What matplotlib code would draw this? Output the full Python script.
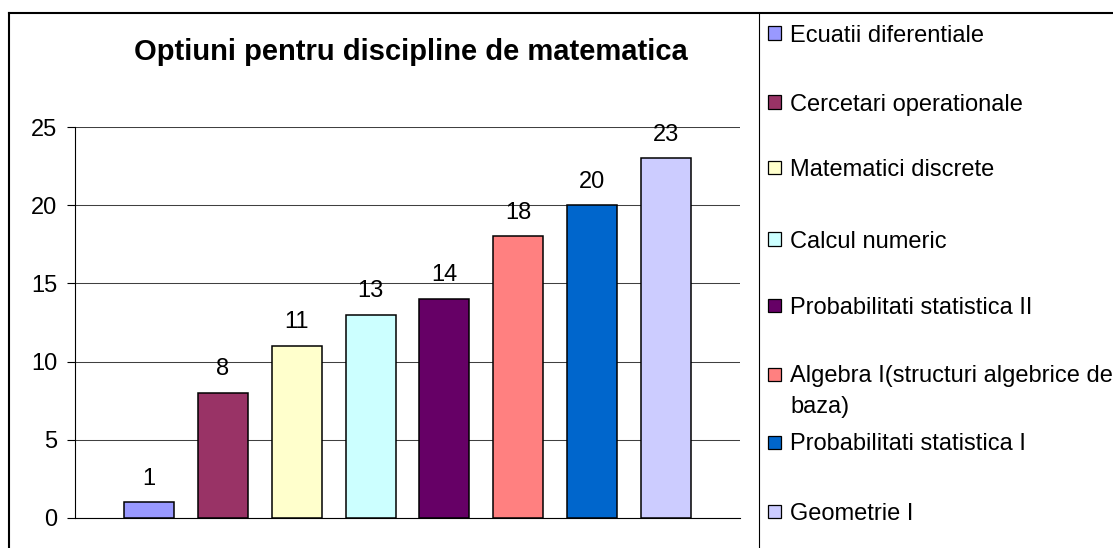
import matplotlib
matplotlib.use("Agg")
import matplotlib.pyplot as plt
from matplotlib.lines import Line2D
from matplotlib.patches import Rectangle

plt.rcParams['font.family'] = ['Liberation Sans', 'DejaVu Sans']

titlu = "Optiuni pentru discipline de matematica"
discipline = ["Ecuatii diferentiale", "Cercetari operationale", "Matematici discrete",
              "Calcul numeric", "Probabilitati statistica II",
              "Algebra I(structuri algebrice de\nbaza)", "Probabilitati statistica I",
              "Geometrie I"]
optiuni = [1, 8, 11, 13, 14, 18, 20, 23]
culori = ["#9999FF", "#993366", "#FFFFCC", "#CCFFFF", "#660066",
          "#FF8080", "#0066CC", "#CCCCFF"]
y_ticks = [0, 5, 10, 15, 20, 25]

W, H = 1113, 548
fig = plt.figure(figsize=(W / 100, H / 100), dpi=100)

def fx(px):
    return px / W

def fy(py):
    return 1 - py / H

# zona graficului
ax = fig.add_axes([fx(75), fy(518), fx(740) - fx(75), fy(127) - fy(518)])
x = list(range(1, len(optiuni) + 1))
ax.bar(x, optiuni, width=0.677, color=culori, edgecolor="black", linewidth=1.1, zorder=3)
for xi, v in zip(x, optiuni):
    ax.annotate(str(v), (xi, v), xytext=(0, 17), textcoords="offset points",
                ha="center", va="center", fontsize=17)

ax.set_xlim(0, len(optiuni) + 1)
ax.set_ylim(0, 25)
ax.set_yticks(y_ticks)
ax.yaxis.grid(True, color="#404040", linewidth=0.75, zorder=0)
ax.tick_params(axis="y", direction="out", length=5.8, width=0.8, pad=7, labelsize=17)
ax.tick_params(axis="x", bottom=False, labelbottom=False)
for s in ["top", "right"]:
    ax.spines[s].set_visible(False)
ax.spines["left"].set_linewidth(0.8)
ax.spines["bottom"].set_linewidth(0.8)

fig.text(fx(411), fy(52), titlu, ha="center", va="center",
         fontsize=21, fontweight="bold")

# chenar
fig.add_artist(Line2D([fx(9), fx(W)], [fy(13), fy(13)], color="black", linewidth=1.5))
fig.add_artist(Line2D([fx(9), fx(9)], [fy(13), 0], color="black", linewidth=1.5))
fig.add_artist(Line2D([fx(759), fx(759)], [fy(13), 0], color="black", linewidth=0.8))

# legenda
leg_y = [33, 102, 168, 239, 305, 374, 442, 511]
for nume, c, py in zip(discipline, culori, leg_y):
    fig.add_artist(Rectangle((fx(768), fy(py + 6.5)), fx(13), 13 / H,
                             facecolor=c, edgecolor="black", linewidth=0.9))
    n = nume.count("\n")
    fig.text(fx(790), fy(py + 8.5 + n * 31), nume, ha="left", va="baseline",
             fontsize=17, linespacing=1.55)

fig.savefig("out.png", dpi=100)
